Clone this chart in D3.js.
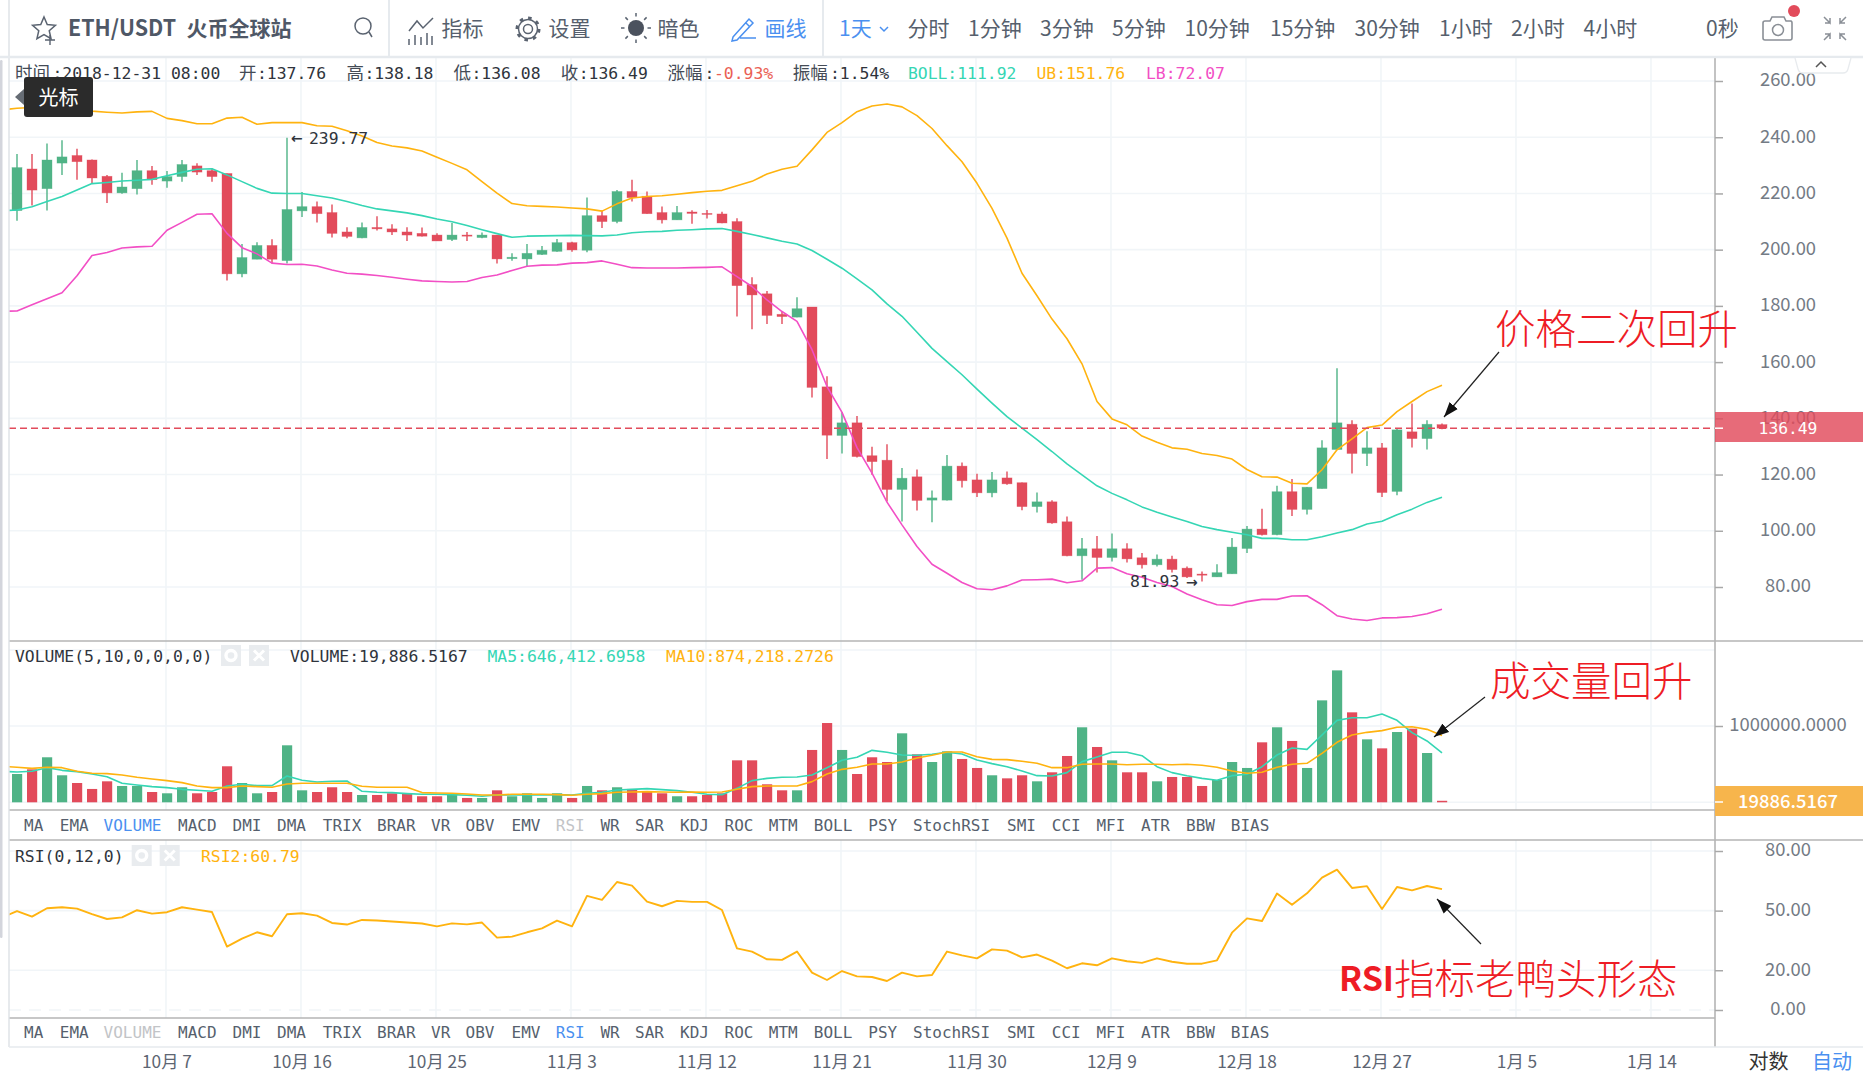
<!DOCTYPE html>
<html>
<head>
<meta charset="utf-8">
<title>ETH/USDT</title>
<script src="https://cdn.jsdelivr.net/npm/d3@7"></script>
<style>
  html, body { margin: 0; padding: 0; background: #fff; overflow: hidden; }
  svg { display: block; }
  .cjk { font-family: "Noto Sans CJK SC", "Noto Sans", sans-serif; }
  .mono { font-family: "DejaVu Sans Mono", "Noto Sans CJK SC", monospace; }
</style>
</head>
<body>
<div id="chartContainer"></div>
<script>
// daily candles, 2018-09-27 .. 2018-12-31
const open = [213.9,228.7,221.7,230.8,233.5,231.9,226.1,220.2,221.7,228.1,
  224.4,226,229.8,228.1,227.1,191.4,196.6,201.5,196.1,213.8,
  215.3,213.2,206.3,204.2,207.9,207.4,206.3,205.8,205.2,203.6,
  205.2,204.3,205.2,196.8,196.7,198.3,199.4,202.5,199.8,212.1,
  210,220.7,219,213.2,210.6,213.4,212.9,212.7,210,187.6,
  184.3,177,176,179.6,151.2,133.9,138.4,126.7,125.1,114.7,
  119.2,110.9,110.9,123,118.1,113.5,118.8,117.1,108.6,110.3,
  103.2,91.1,93.6,90.5,93.6,90.4,87.9,89.9,86.7,84.6,
  83.6,84.7,93.7,100.6,98.6,113.9,107.6,115,128.9,137.9,
  127.5,129.5,114,135.2,132.8,137.76];
const close = [229.2,221.2,231.9,233,231.3,225.5,220.2,222.3,228.1,224.9,
  226,230.3,227.6,226,191.4,197.2,201.5,196.6,214.3,215.3,
  212.8,205.8,204.7,207.9,207.4,206.3,205.2,204.8,203.1,205.2,
  204.8,205.2,196.7,197.3,198.7,199.8,202.5,199.9,212.1,210,
  220.7,218.5,212.8,210.6,213.2,212.9,212.7,209.5,187.2,183.9,
  176.6,176.2,179,151,134,138.4,126.4,124.6,114.7,118.7,
  110.8,111.7,123,117.8,113.5,118.1,116.7,108.6,110.3,102.8,
  91.1,93.6,90.5,93.6,90,87.9,89.9,86.2,83.6,84.2,
  85.1,94.2,100.6,98.6,113.9,107.6,115.5,129.5,138.4,127.5,
  129.5,113.6,135.9,132.8,137.9,136.49];
const high = [234,234,237.8,238.9,235.9,232.1,226.6,227.4,231.9,229.8,
  228,231.9,230.7,228.9,227.1,202,202.6,203.7,239.77,220.5,
  217.1,216.1,208,209.7,211.9,209,208,207.9,205.8,209.5,
  206.3,206.1,205.2,198.7,202,201.3,203.8,202.8,218.6,213.9,
  221.2,224.9,220.7,215.4,215.5,214,214.1,213.5,211.2,190.2,
  185.3,178,183.1,179.6,155,142.2,140.8,129.9,130.8,122.3,
  121.8,114.3,127,124.3,120.3,120.9,121.1,117.2,113.6,110.9,
  105.1,97.4,98.1,99,95.6,92.1,91.6,91.1,87.3,85.5,
  88.1,97.4,101.7,107.8,116,118.4,115.6,132.2,157.8,139.3,
  135.4,131.2,136.5,145.3,139.3,138.18];
const low = [210.3,215.7,213.9,226.6,224.9,223.6,216.6,219.9,219.6,223.1,
  222,224.2,226.6,224.2,189,190.2,196.6,195.1,195.1,211.6,
  209.7,204.3,204.1,204.1,206.8,205.2,203.1,204.7,203.1,203.1,
  203.1,204.1,195.1,196.1,194,198.1,199.3,199.3,199.1,207.7,
  209.4,217.1,212.8,209.3,210.6,209.2,211.1,209.4,176.2,171.7,
  173.6,173.6,176,147.4,125.5,127.5,126.1,119.9,110.4,103.3,
  107.2,103,110.8,115.4,112,111.9,116.4,107.3,106.5,102.5,
  90.9,82.6,85.2,89.1,88.7,86.6,87.3,85.2,83.2,81.93,
  83.6,84.7,92.1,98.3,98.4,105.3,105.8,115,128.9,120.4,
  123,112,112.6,129.6,128.9,136.08];

// the line series start one day earlier (day -1), so they run into the left edge
const boll = [213.9,214.1,215.3,217.1,218.9,221.2,223.5,223.9,224.4,224.7,225,
  226.3,227.5,228.6,228.8,226.6,224.2,221.8,220.1,220,220,
  219.2,218.4,217.1,215.7,214.5,213.8,213.1,212.1,210.9,209.9,
  208.6,207.1,205.7,204.4,204.8,204.9,205,205.1,205,204.9,
  205.2,206,206.4,206.5,206.9,207.1,207.4,207.5,206.5,205.4,
  204.2,203,202,199.7,196.6,193.4,189.6,185.7,180.7,176.3,
  170.6,164.9,160.2,155.5,150.4,145.4,140.6,136.5,132.4,128.2,
  123.8,119.9,116,113.3,111,108.5,106.6,104.9,103.3,101.5,
  100.4,99.5,98.6,97.3,97.3,96.8,96.8,97.9,99.2,100.4,
  102.4,103.4,105.7,107.7,110.1,111.92];
const ub = [249.7,250.3,250.6,250.9,250.6,249.9,249.3,248.9,248.6,249,249.2,
  246.7,245.9,244.8,244.8,246.8,247.1,244.6,245.2,245.2,245.2,
  244.1,243.9,242.3,240.4,238.1,236.9,236.2,235.1,232.9,230.7,
  228.4,224.2,220.1,216.4,215.6,215.4,215.2,214.8,214.5,213.7,
  216.3,218.4,218.9,219.2,219.7,220.3,220.8,221.1,222.7,224.3,
  226.9,228.6,229.7,235.5,241.7,245.2,249.1,251.1,251.8,250.8,
  247.7,243.1,237,231.3,223.6,214.7,204.1,191.6,183.6,175.3,
  168.3,159.4,146,139.8,137.7,133.7,131.5,129.5,129,127.5,
  126.8,125.5,121.8,119.2,119.1,116.9,116.7,121.7,128.8,132.7,
  136.7,137.6,142.4,146,149.5,151.76];
const lb = [178.1,178.2,180.4,182.5,184.7,190.7,197.9,199,200.6,201,201.2,
  206.9,209.7,212.6,212.8,205.8,200.7,198.5,195.2,194.7,194.8,
  194.2,192.8,191.6,191.3,190.8,190.2,189.5,188.9,188.7,188.5,
  188.7,190.1,191,192.6,194.1,194.5,194.6,195.2,195.4,196,
  194.8,193.6,193.5,193.5,193.5,193.6,193.7,193.9,190.4,186.9,
  182.1,178,174.5,164.4,151.3,142.1,129.6,120.5,110.2,102.1,
  94.4,88.1,84.9,81.6,79.4,79,80.4,82.5,82.6,82.8,
  81.5,82.2,86.7,86.9,84.7,83.5,81.6,80.2,77.5,75.5,
  73.7,73.4,74.8,75.6,75.6,76.8,76.9,73.7,69.8,68.6,
  68.1,69,69.1,69.5,70.5,72.07];

// volume in thousands
const volume = [371,432,590,354,253,175,275,214,214,135,
  118,197,118,135,472,253,118,135,747,157,
  135,197,135,96,96,118,109,79,79,109,
  57,57,157,79,118,57,118,57,214,157,
  197,175,135,118,79,79,96,118,550,550,
  236,157,157,686,1039,686,371,590,528,904,
  629,528,668,568,450,354,314,354,275,393,
  607,983,725,550,393,393,275,332,332,214,
  293,528,450,786,983,804,450,1336,1729,1179,
  825,707,921,965,646,19.9];
const ma5 = [406,397,406,454,419,402,371,336,249,227,205,
  192,170,157,144,214,236,218,218,345,288,
  266,275,279,144,131,127,114,105,105,100,
  92,79,96,96,96,96,100,96,118,131,
  162,170,179,166,153,131,105,100,183,284,
  314,328,332,358,454,550,590,681,655,620,
  616,629,655,633,555,507,467,410,349,345,
  389,533,594,655,655,611,467,389,349,314,
  288,349,367,467,620,712,694,882,1074,1109,
  1109,1157,1074,913,804,646.4];
const ma10 = [472,459,445,459,454,406,380,376,358,328,306,
  284,258,214,192,192,214,205,197,240,249,
  249,249,249,210,197,197,197,127,122,118,
  109,96,96,105,105,105,100,92,105,114,
  131,135,140,135,131,135,131,135,170,205,
  214,214,214,271,371,432,459,502,502,528,
  581,616,659,659,598,563,559,537,511,454,
  454,498,502,502,493,498,498,493,498,485,
  459,410,380,393,459,498,511,642,786,882,
  917,939,983,991,956,874.2];
const rsi2 = [46.5,49.8,47,51.2,51.7,51,48.2,45.8,46.6,50.2,48.5,
  49.2,51.7,50.5,49.3,31.9,35.9,39.1,37.1,48.2,48.7,
  47.5,43.8,43,45.3,45,44.5,44,43.5,42.1,43.6,
  43.1,44,36.4,36.9,39.1,41.1,45,42.1,57.4,55.4,
  64.4,62.6,54.5,52.2,54.9,54.4,54.4,50.3,31,29.4,
  25.5,25.2,29.4,18.8,15.1,19.6,16.9,16.6,14.6,18.8,
  16.9,17.6,29.4,27.5,26,30.5,29.9,26.5,27.9,24.8,
  21,23.5,22.5,26,24.5,23.7,26,24.3,23.3,23.3,
  25,38.9,46.1,44.8,58.6,52.9,58.7,66.6,70.6,61.4,
  62.3,50.8,61.9,60.2,62.4,60.79];

const dateTicks = [10, 19, 28, 37, 46, 55, 64, 73, 82, 91, 100, 109];
const dateLabels = ["10月 7","10月 16","10月 25","11月 3","11月 12","11月 21","11月 30","12月 9","12月 18","12月 27","1月 5","1月 14"];
const priceTicks = [80, 100, 120, 140, 160, 180, 200, 220, 240, 260];
const volumeTicks = [1000];
const rsiTicks = [0, 20, 50, 80];
const indicatorTabs = ["MA","EMA","VOLUME","MACD","DMI","DMA","TRIX","BRAR","VR","OBV","EMV","RSI","WR","SAR","KDJ","ROC","MTM","BOLL","PSY","StochRSI","SMI","CCI","MFI","ATR","BBW","BIAS"];
const periodTabs = ["分时","1分钟","3分钟","5分钟","10分钟","15分钟","30分钟","1小时","2小时","4小时"];

const width = 1863, height = 1075;
const paneLeft = 9, axisX = 1715;
const toolbarBottom = 57, mainBottom = 641, volBottom = 810, tabBottom = 840, rsiBottom = 1018, footTop = 1047;

const GREEN = "#4fb386", RED = "#e24b5b", TEAL = "#35d6b4", ORANGE = "#ffb30f", PINK = "#f24fc5", BLUE = "#4a90f0";
const GRID = "#f1f5f8", SEP = "#b4b4b4", LABEL = "#747b85", TAB = "#565f6d";

function createChart() {
    const svg = d3.create("svg")
        .attr("viewBox", [0, 0, width, height])
        .attr("width", width)
        .attr("height", height);

    // one shared day axis and a y scale for each pane
    const x = d3.scaleLinear().domain([0, 100]).range([17, 1517]);
    const yPrice = d3.scaleLinear().domain([80, 260]).range([587, 81]);
    const yVol = d3.scaleLinear().domain([0, 1000]).range([802.3, 726]);
    const yRsi = d3.scaleLinear().domain([0, 80]).range([1010, 851]);

    svg.append("clipPath").attr("id", "plot")
        .append("rect").attr("x", paneLeft).attr("y", toolbarBottom)
        .attr("width", axisX - paneLeft).attr("height", rsiBottom - toolbarBottom);

    // grid
    const grid = svg.append("g").attr("stroke", GRID).attr("stroke-width", 1.6);
    const panes = [[toolbarBottom, mainBottom], [mainBottom, volBottom], [tabBottom, rsiBottom]];
    panes.forEach(([a, b]) => {
        grid.append("g").selectAll("line").data(dateTicks).join("line")
            .attr("x1", d => x(d) - 1).attr("x2", d => x(d) - 1)
            .attr("y1", a).attr("y2", b);
    });
    const hLines = priceTicks.map(d => yPrice(d))
        .concat(volumeTicks.map(d => yVol(d)), [650, yVol(0)], rsiTicks.filter(d => d > 0).map(d => yRsi(d)));
    grid.append("g").selectAll("line").data(hLines).join("line")
        .attr("x1", paneLeft).attr("x2", axisX).attr("y1", d => d).attr("y2", d => d);
    grid.append("line").attr("x1", paneLeft).attr("x2", axisX)
        .attr("y1", yRsi(0)).attr("y2", yRsi(0)).attr("stroke-dasharray", "12 8");

    // candles
    const candles = svg.append("g").attr("clip-path", "url(#plot)")
        .selectAll("g").data(open).join("g")
        .attr("fill", (d, i) => close[i] >= d ? GREEN : RED)
        .attr("stroke", (d, i) => close[i] >= d ? GREEN : RED);
    candles.append("line")
        .attr("x1", (d, i) => x(i)).attr("x2", (d, i) => x(i))
        .attr("y1", (d, i) => yPrice(high[i])).attr("y2", (d, i) => yPrice(low[i]))
        .attr("stroke-width", 1.4);
    candles.append("rect")
        .attr("x", (d, i) => x(i) - 5)
        .attr("width", 10)
        .attr("y", (d, i) => yPrice(Math.max(d, close[i])))
        .attr("height", (d, i) => Math.max(1, Math.abs(yPrice(d) - yPrice(close[i]))))
        .attr("stroke-width", 0.7)
        .attr("stroke-opacity", 0.5);

    // line series, drawn from day -1
    const seriesLine = (g, y, values, color, w) => g.append("path")
        .attr("clip-path", "url(#plot)")
        .attr("fill", "none").attr("stroke", color).attr("stroke-width", w)
        .attr("stroke-linejoin", "round")
        .attr("d", d3.line().x((d, i) => x(i - 1)).y(d => y(d))(values));

    const overlays = svg.append("g");
    seriesLine(overlays, yPrice, ub, ORANGE, 1.6);
    seriesLine(overlays, yPrice, boll, TEAL, 1.6);
    seriesLine(overlays, yPrice, lb, PINK, 1.6);

    // last price line
    svg.append("line")
        .attr("x1", paneLeft).attr("x2", axisX)
        .attr("y1", yPrice(136.49)).attr("y2", yPrice(136.49))
        .attr("stroke", RED).attr("stroke-width", 1.5).attr("stroke-dasharray", "7 4");

    // volume pane
    svg.append("g").selectAll("rect").data(volume).join("rect")
        .attr("x", (d, i) => x(i) - 5)
        .attr("width", 10.2)
        .attr("y", d => yVol(d))
        .attr("height", d => yVol(0) - yVol(d))
        .attr("fill", (d, i) => close[i] >= open[i] ? GREEN : RED);
    seriesLine(svg, yVol, ma5, TEAL, 1.6);
    seriesLine(svg, yVol, ma10, ORANGE, 1.6);

    // rsi pane
    seriesLine(overlays, yRsi, rsi2, ORANGE, 1.9);

    // pane separators
    const sep = svg.append("g").attr("stroke", SEP).attr("stroke-width", 1.6);
    sep.append("line").attr("x1", paneLeft).attr("x2", width).attr("y1", mainBottom).attr("y2", mainBottom);
    sep.append("line").attr("x1", paneLeft).attr("x2", axisX).attr("y1", volBottom).attr("y2", volBottom);
    sep.append("line").attr("x1", paneLeft).attr("x2", width).attr("y1", tabBottom).attr("y2", tabBottom);
    sep.append("line").attr("x1", paneLeft).attr("x2", axisX).attr("y1", rsiBottom).attr("y2", rsiBottom);
    sep.append("line").attr("x1", axisX).attr("x2", axisX).attr("y1", toolbarBottom).attr("y2", footTop);
    svg.append("line").attr("x1", paneLeft).attr("x2", paneLeft).attr("y1", 0).attr("y2", footTop)
        .attr("stroke", "#dde1e5").attr("stroke-width", 1.4);
    svg.append("line").attr("x1", paneLeft).attr("x2", width).attr("y1", footTop).attr("y2", footTop)
        .attr("stroke", "#e6eaee").attr("stroke-width", 1.4);
    svg.append("rect").attr("x", 0).attr("y", 60).attr("width", 2.5).attr("height", 878).attr("rx", 1.2)
        .attr("fill", "#d3d5dc");

    // right axes
    const yAxisStyle = g => g
        .call(g => g.select(".domain").remove())
        .call(g => g.selectAll(".tick line").attr("stroke", "#a8a8a8").attr("stroke-width", 1.5))
        .call(g => g.selectAll("text")
            .attr("class", "cjk").attr("x", 73).attr("dy", "0.27em").attr("text-anchor", "middle")
            .attr("fill", LABEL).style("font-size", "18.4px"));

    svg.append("g").attr("transform", `translate(${axisX},0)`)
        .call(d3.axisRight(yPrice).tickValues(priceTicks).tickSize(8).tickFormat(d3.format(".2f")))
        .call(yAxisStyle);
    svg.append("g").attr("transform", `translate(${axisX},0)`)
        .call(d3.axisRight(yVol).tickValues(volumeTicks).tickSize(8).tickFormat(d => d3.format(".4f")(d * 1000)))
        .call(yAxisStyle);
    svg.append("g").attr("transform", `translate(${axisX},0)`)
        .call(d3.axisRight(yRsi).tickValues(rsiTicks).tickSize(8).tickFormat(d3.format(".2f")))
        .call(yAxisStyle);

    // bottom date axis
    svg.append("g").attr("transform", "translate(-0.5,1058)")
        .call(d3.axisBottom(x).tickValues(dateTicks).tickSize(0).tickPadding(0)
            .tickFormat((d, i) => dateLabels[i]))
        .call(g => g.select(".domain").remove())
        .call(g => g.selectAll("text")
            .attr("class", "cjk").attr("dy", "0.6em").attr("fill", "#5d6572").style("font-size", "17.3px"));

    // last value tags
    svg.append("rect").attr("x", axisX).attr("y", 412).attr("width", width - axisX).attr("height", 30)
        .attr("fill", RED).attr("fill-opacity", 0.82);
    svg.append("line").attr("x1", axisX).attr("x2", axisX + 8).attr("y1", yPrice(136.49)).attr("y2", yPrice(136.49))
        .attr("stroke", "#fff").attr("stroke-width", 1.5);
    svg.append("text").attr("class", "mono").attr("x", 1788).attr("y", yPrice(136.49)).attr("dy", "0.36em")
        .attr("text-anchor", "middle").attr("fill", "#fff").style("font-size", "16.3px").text("136.49");
    svg.append("rect").attr("x", axisX).attr("y", 786).attr("width", width - axisX).attr("height", 30)
        .attr("fill", "#f7b54c");
    svg.append("line").attr("x1", axisX).attr("x2", axisX + 8).attr("y1", 802).attr("y2", 802)
        .attr("stroke", "#fff").attr("stroke-width", 1.5);
    svg.append("text").attr("class", "cjk").attr("x", 1788).attr("y", 801).attr("dy", "0.36em")
        .attr("text-anchor", "middle").attr("fill", "#fff").attr("font-weight", 500)
        .style("font-size", "18.4px").text("19886.5167");

    drawHeaders(svg);
    drawTabs(svg);
    drawToolbar(svg);
    drawExtremes(svg, x, yPrice);
    drawNotes(svg);

    return svg.node();
}

// a row of [text, x, color, size] in the monospace legend font
function monoRow(svg, y, items) {
    svg.append("g").attr("class", "mono").selectAll("text").data(items).join("text")
        .attr("x", d => d[1]).attr("y", y).attr("dy", "0.36em")
        .attr("fill", d => d[2] || "#2f343c")
        .style("font-size", d => (d[3] || 16.4) + "px")
        .text(d => d[0]);
}

function drawHeaders(svg) {
    const dark = "#2f343c", cn = "#444b56";
    monoRow(svg, 73, [
        ["时间", 15, cn, 17.5], [":2018-12-31 08:00", 52.5, dark],
        ["开", 239, cn, 17.5], [":137.76", 257, dark],
        ["高", 346.4, cn, 17.5], [":138.18", 364.4, dark],
        ["低", 453.5, cn, 17.5], [":136.08", 471.5, dark],
        ["收", 560.7, cn, 17.5], [":136.49", 578.7, dark],
        ["涨幅", 667.4, cn, 17.5], [":", 704.5, dark], ["-0.93%", 714, "#ea5f55"],
        ["振幅", 792.8, cn, 17.5], [":1.54%", 830, dark],
        ["BOLL:111.92", 907.9, TEAL], ["UB:151.76", 1036.4, ORANGE], ["LB:72.07", 1146, PINK]
    ]);
    monoRow(svg, 656, [
        ["VOLUME(5,10,0,0,0,0)", 15], ["VOLUME:19,886.5167", 290],
        ["MA5:646,412.6958", 487.5, TEAL], ["MA10:874,218.2726", 666, ORANGE]
    ]);
    monoRow(svg, 856, [["RSI(0,12,0)", 15], ["RSI2:60.79", 201, ORANGE]]);

    // little settings / close boxes next to each indicator name
    [[221, 645], [131.7, 845]].forEach(([bx, by]) => {
        const g = svg.append("g").attr("transform", `translate(${bx},${by})`);
        g.append("rect").attr("width", 20).attr("height", 21).attr("fill", "#e9ecef");
        g.append("circle").attr("cx", 10).attr("cy", 10.5).attr("r", 5)
            .attr("fill", "none").attr("stroke", "#fff").attr("stroke-width", 3.4);
        g.append("rect").attr("x", 28).attr("width", 20).attr("height", 21).attr("fill", "#e9ecef");
        g.append("path").attr("d", "M33 5.5L43 15.5M43 5.5L33 15.5")
            .attr("stroke", "#fff").attr("stroke-width", 3);
    });
}

function drawTabs(svg) {
    const tabX = [24,59.8,103.6,178,232.6,277,322.8,377,431,465.6,511.6,555.8,600.4,635,680,
        724.6,768.8,813.8,868.3,913,1007,1051.8,1096.4,1141,1186,1230.8];
    const row = (y, active, muted) => monoRow(svg, y, indicatorTabs.map((t, i) =>
        [t, tabX[i], t === active ? BLUE : t === muted ? "#c2c4c7" : TAB, 16]));
    row(825.7, "VOLUME", "RSI");
    row(1032.7, "RSI", "VOLUME");
}

function drawToolbar(svg) {
    svg.append("line").attr("x1", 0).attr("x2", width).attr("y1", toolbarBottom).attr("y2", toolbarBottom)
        .attr("stroke", "#e6eaee").attr("stroke-width", 2.5);
    [389, 823].forEach(sx => svg.append("line").attr("x1", sx).attr("x2", sx).attr("y1", 0).attr("y2", toolbarBottom)
        .attr("stroke", "#e6eaee").attr("stroke-width", 2));

    const tb = svg.append("g").attr("class", "cjk");
    const label = (t, lx, color, size, weight) => tb.append("text")
        .attr("x", lx).attr("y", 28).attr("dy", "0.36em")
        .attr("fill", color || TAB).attr("font-weight", weight || 400)
        .style("font-size", (size || 21) + "px").text(t);

    label("ETH/USDT", 68, "#4f5866", 22, 700).attr("textLength", 108).attr("lengthAdjust", "spacingAndGlyphs");
    label("火币全球站", 186.5, "#4f5866", 21, 700);
    label("指标", 441.5);
    label("设置", 548.5);
    label("暗色", 657.5);
    label("画线", 764.5, BLUE);
    label("1天", 839, BLUE);
    const periodX = [907.5, 968, 1040, 1112, 1184.5, 1270, 1354.5, 1439, 1511, 1583.5];
    periodTabs.forEach((t, i) => label(t, periodX[i]));
    label("0秒", 1706);

    // footer switches
    [["对数", 1748.6, "#333"], ["自动", 1812, BLUE]].forEach(([t, fx, c]) => {
        svg.append("text").attr("class", "cjk").attr("x", fx).attr("y", 1062).attr("dy", "0.36em")
            .attr("fill", c).style("font-size", "20px").text(t);
    });

    // icons
    const icon = tb.append("g").attr("fill", "none").attr("stroke", "#5a6370").attr("stroke-width", 1.5);
    const star = d3.range(10).map(i => {
        const r = i % 2 ? 5.5 : 12, a = -Math.PI / 2 + i * Math.PI / 5;
        return [44 + r * Math.cos(a), 29 + r * Math.sin(a)];
    });
    icon.append("path").attr("d", d3.line()(star) + "Z");
    icon.append("path").attr("d", "M50 35v10M45 40h10").attr("stroke-width", 1.4);
    icon.append("circle").attr("cx", 363).attr("cy", 26).attr("r", 8);
    icon.append("path").attr("d", "M369 32l3 5");
    icon.append("path").attr("d", "M409 31L417 21L423 28L433 18M409 45v-6M415 45v-10M421 45v-8M427 45v-12M432 45v-9");
    icon.append("circle").attr("cx", 528).attr("cy", 29).attr("r", 4.5);
    icon.append("circle").attr("cx", 528).attr("cy", 29).attr("r", 9.5)
        .attr("stroke-width", 1.5);
    icon.append("circle").attr("cx", 528).attr("cy", 29).attr("r", 11)
        .attr("stroke-width", 3).attr("stroke-dasharray", "3.5 5.1");
    icon.append("circle").attr("cx", 636).attr("cy", 28).attr("r", 8).attr("fill", "#4b525e").attr("stroke", "none");
    d3.range(8).forEach(i => {
        const a = i * Math.PI / 4;
        icon.append("line")
            .attr("x1", 636 + 11.5 * Math.cos(a)).attr("y1", 28 + 11.5 * Math.sin(a))
            .attr("x2", 636 + 15 * Math.cos(a)).attr("y2", 28 + 15 * Math.sin(a));
    });
    icon.append("path").attr("stroke", BLUE)
        .attr("d", "M733 37L749 19L753 23L737 40L732 41ZM746 23L750 27M734 38M740 38h16");
    icon.append("path").attr("stroke", BLUE).attr("d", "M880 27l4 4l4 -4");
    icon.append("path").attr("stroke", "#8a8f96").attr("stroke-width", 1.6)
        .attr("d", "M1765 21h5l2-4h12l2 4h5a2 2 0 0 1 1 2v15a2 2 0 0 1-2 2h-25a2 2 0 0 1-2-2v-15a2 2 0 0 1 2-2z");
    icon.append("circle").attr("cx", 1778).attr("cy", 30).attr("r", 5.5).attr("stroke", "#8a8f96");
    tb.append("circle").attr("cx", 1794).attr("cy", 11).attr("r", 6).attr("fill", RED);
    icon.append("path").attr("stroke", "#8a8f96")
        .attr("d", "M1824 17l6 6v-5M1830 23h-5M1846 17l-6 6v-5M1840 23h5M1824 40l6-6v5M1830 34h-5M1846 40l-6-6v5M1840 34h5");

    // collapse tab under the toolbar
    svg.append("path").attr("d", "M1795 58l3 11q1 4 5 4h40q4 0 5-4l3-11")
        .attr("fill", "#fff").attr("stroke", "#e8ebee").attr("stroke-width", 1.3);
    svg.append("path").attr("d", "M1816 67l5-5l5 5").attr("fill", "none").attr("stroke", "#555").attr("stroke-width", 1.5);

    // cursor tooltip
    svg.append("path").attr("d", "M24 89L15 97L24 105Z").attr("fill", "#666c74");
    svg.append("rect").attr("x", 24).attr("y", 77).attr("width", 69).attr("height", 40).attr("rx", 3)
        .attr("fill", "#2b2b2b");
    svg.append("text").attr("class", "cjk").attr("x", 58.5).attr("y", 98).attr("dy", "0.36em")
        .attr("text-anchor", "middle").attr("fill", "#fff").style("font-size", "20px").text("光标");
}

// high / low markers on the price pane
function drawExtremes(svg, x, yPrice) {
    const maxIdx = d3.maxIndex(high), minIdx = d3.minIndex(low);
    const txt = (t, tx, ty) => svg.append("text").attr("class", "mono").attr("x", tx).attr("y", ty).attr("dy", "0.36em")
        .attr("fill", "#2f343c").style("font-size", "16.4px").text(t);
    const arrow = (t, tx, ty) => txt(t, tx, ty).style("font-family", "'DejaVu Sans'").style("font-size", "14px")
        .attr("font-weight", 700);
    arrow("←", x(maxIdx) + 4, yPrice(high[maxIdx]));
    txt(d3.format(".2f")(high[maxIdx]), x(maxIdx) + 22, yPrice(high[maxIdx]));
    txt(d3.format(".2f")(low[minIdx]), x(minIdx) - 72, yPrice(low[minIdx]));
    arrow("→", x(minIdx) - 16, yPrice(low[minIdx]));
}

// hand drawn notes on top of the chart
function drawNotes(svg) {
    svg.append("defs").append("marker")
        .attr("id", "head").attr("viewBox", "0 0 14 10").attr("refX", 14).attr("refY", 5)
        .attr("markerUnits", "userSpaceOnUse").attr("markerWidth", 15).attr("markerHeight", 11).attr("orient", "auto")
        .append("path").attr("d", "M0 0L14 5L0 10Z").attr("fill", "#111");

    const arrows = [[1499, 352, 1444, 417], [1485, 697, 1434, 737], [1481, 944, 1437, 899]];
    svg.append("g").selectAll("line").data(arrows).join("line")
        .attr("x1", d => d[0]).attr("y1", d => d[1]).attr("x2", d => d[2]).attr("y2", d => d[3])
        .attr("stroke", "#222").attr("stroke-width", 1.2).attr("marker-end", "url(#head)");

    const notes = [["价格二次回升", 1495, 329], ["成交量回升", 1490, 681], ["指标老鸭头形态", 1394, 979]];
    svg.append("g").attr("class", "cjk").selectAll("text").data(notes).join("text")
        .attr("x", d => d[1]).attr("y", d => d[2]).attr("dy", "0.36em")
        .attr("fill", "#ee1c25").attr("font-weight", 300).style("font-size", "40.5px").text(d => d[0]);
    svg.append("text").attr("class", "cjk").attr("x", 1339).attr("y", 979).attr("dy", "0.36em")
        .attr("fill", "#ee1c25").attr("font-weight", 700).style("font-size", "34px").text("RSI");
}

document.addEventListener("DOMContentLoaded", function () {
    document.getElementById("chartContainer").appendChild(createChart());
});
</script>
</body>
</html>
